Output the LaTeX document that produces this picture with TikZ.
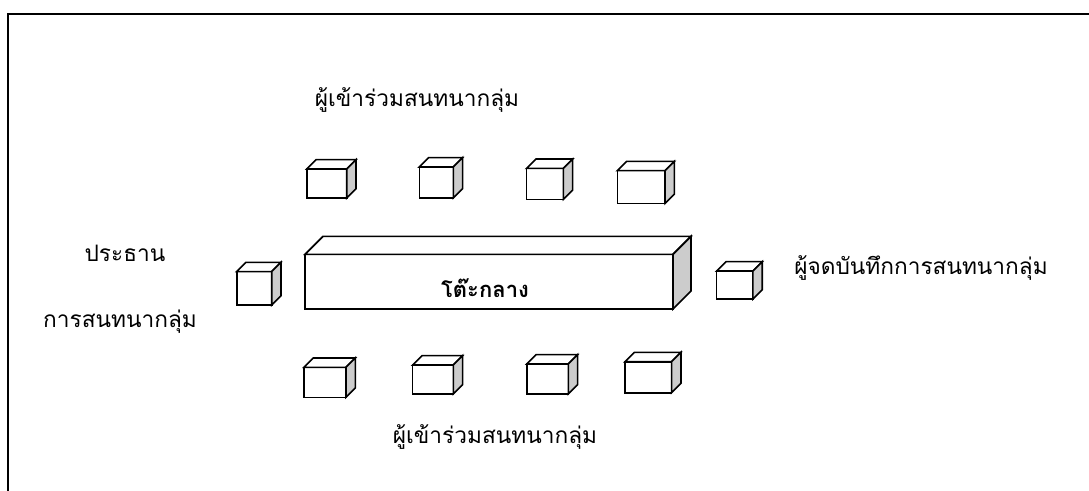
\documentclass[tikz,border=0pt]{standalone}
\usepackage{fontspec}
\newfontfamily\thaifont[Script=Thai]{Loma}
\usetikzlibrary{positioning}
\begin{document}
\begin{tikzpicture}[x=0.75pt, y=-0.75pt]
            \tikzstyle{chair} = [rectangle, draw, fill=white, line width=1.2pt, outer sep=0pt, inner sep=0pt]
            \tikzstyle{face} = [line width=1.2pt, line join=miter, fill=white]
            \tikzstyle{side} = [face, fill=black!20]
            \tikzstyle{label} = [font=\thaifont\fontsize{17}{20}\selectfont, inner sep=0pt]
            \clip (0,0) rectangle (1089,490);
            \fill[white] (0,0) rectangle (1089,490);
            \draw[line width=1.6pt] (8,500) |- (1100,14);

            % table
            \node [chair, minimum width=276pt, minimum height=41pt] (table) at (489,281.7) {};
            \filldraw[face] (table.north west) -- ++(13.5pt,13.5pt) -- ([shift={(13.5pt,13.5pt)}]table.north east) -- (table.north east) -- cycle;
            \filldraw[side] (table.north east) -- ++(13.5pt,13.5pt) -- ([shift={(13.5pt,13.5pt)}]table.south east) -- (table.south east) -- cycle;
            \node [label, font=\thaifont\fontsize{16.5}{20}\selectfont\bfseries] (tabletext) at (485,288) {โต๊ะกลาง};

            % participants
            \node [chair, minimum width=30pt, minimum height=21.75pt] (pa) at (326.7,183.5) {};
            \node [chair, minimum width=25.5pt, minimum height=23.25pt] (pb) at (436.3,182.5) {};
            \node [chair, minimum width=27.5pt, minimum height=23.25pt] (pc) at (545,183.8) {};
            \node [chair, minimum width=35.8pt, minimum height=24.5pt] (pd) at (641.2,187) {};
            \node [chair, minimum width=31.5pt, minimum height=22.5pt] (pe) at (325,382.3) {};
            \node [chair, minimum width=30.5pt, minimum height=21.75pt] (pf) at (433,379.5) {};
            \node [chair, minimum width=31.2pt, minimum height=22.5pt] (pg) at (547.5,379) {};
            \node [chair, minimum width=35pt, minimum height=23.25pt] (ph) at (648.3,377.2) {};
            \node [chair, minimum width=26.25pt, minimum height=25pt] (head) at (254.2,288.3) {};
            \node [chair, minimum width=27.2pt, minimum height=21pt] (recorder) at (734.8,285) {};

            \foreach \n in {pa,pb,pc,pd,pe,pf,pg,ph,head,recorder} {
                \filldraw[face] (\n.north west) -- ++(7pt,7pt) -- ([shift={(7pt,7pt)}]\n.north east) -- (\n.north east) -- cycle;
                \filldraw[side] (\n.north east) -- ++(7pt,7pt) -- ([shift={(7pt,7pt)}]\n.south east) -- (\n.south east) -- cycle;
            }

            \node [label] (toplabel) at (417,100) {ผู้เข้าร่วมสนทนากลุ่ม};
            \node [label] (bottomlabel) at (495,437) {ผู้เข้าร่วมสนทนากลุ่ม};
            \node [label] (headlabel) at (125,253) {ประธาน};
            \node [label] (headlabel2) at (120,322) {การสนทนากลุ่ม};
            \node [label] (recorderlabel) at (921,268) {ผู้จดบันทึกการสนทนากลุ่ม};
        \end{tikzpicture}
\end{document}
